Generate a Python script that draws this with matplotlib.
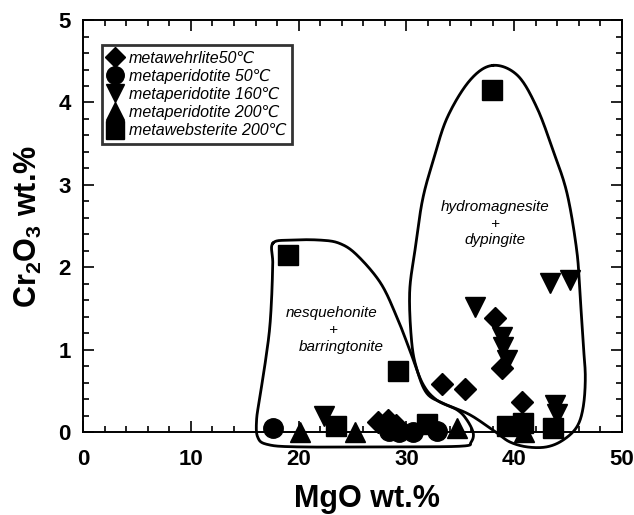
import numpy as np
import matplotlib
matplotlib.use("Agg")
import matplotlib.pyplot as plt
from matplotlib.ticker import MultipleLocator

plt.rcParams['font.family'] = ['Liberation Sans', 'DejaVu Sans']
plt.rcParams['mathtext.fontset'] = 'custom'
plt.rcParams['mathtext.rm'] = 'Liberation Sans:bold'
plt.rcParams['mathtext.bf'] = 'Liberation Sans:bold'
plt.rcParams['mathtext.default'] = 'bf'

# ---- data (MgO wt.%, Cr2O3 wt.%) ----
wehr50_x = [27.4, 28.3, 29.0, 33.3, 35.4, 38.2, 38.9, 40.7]
wehr50_y = [0.12, 0.15, 0.08, 0.58, 0.52, 1.38, 0.78, 0.36]

perid50_x = [17.6, 28.4, 29.3, 30.6, 32.8]
perid50_y = [0.05, 0.01, 0.00, 0.00, 0.01]

perid160_x = [22.4, 36.4, 38.9, 39.0, 39.3, 43.3, 45.2, 43.8, 44.0, 40.8]
perid160_y = [0.20, 1.52, 1.15, 1.03, 0.87, 1.81, 1.85, 0.33, 0.22, 0.02]

perid200_x = [20.1, 25.2, 34.7, 40.9]
perid200_y = [0.00, 0.00, 0.05, 0.00]

webst200_x = [19.0, 23.5, 29.2, 31.9, 37.9, 39.3, 40.8, 43.6]
webst200_y = [2.15, 0.07, 0.74, 0.10, 4.15, 0.07, 0.11, 0.05]

series_labels = ["metawehrlite50\u2103", "metaperidotite 50\u2103",
                 "metaperidotite 160\u2103", "metaperidotite 200\u2103",
                 "metawebsterite 200\u2103"]

# field outlines
nesq_x = [17.6, 19.2, 22.0, 23.8, 25.4, 27.6, 29.1, 30.3, 31.5, 32.8, 34.7, 35.6,
          36.2, 36.0, 35.2, 29.4, 20.1, 17.1, 16.2, 16.1, 16.4, 16.9, 17.3, 17.5, 17.6]
nesq_y = [2.29, 2.33, 2.33, 2.29, 2.15, 1.81, 1.40, 1.00, 0.59, 0.39, 0.27, 0.15,
          -0.01, -0.12, -0.17, -0.18, -0.18, -0.15, -0.06, 0.15, 0.42, 0.84, 1.24, 1.64, 2.05]

hyd_x = [38.0, 40.3, 42.1, 43.6, 44.9, 45.8, 46.1, 46.4, 46.6, 46.4, 45.8, 44.5, 43.0,
         41.2, 39.6, 38.4, 37.1, 35.6, 33.4, 31.9, 31.0, 30.5, 30.3, 30.8, 31.5, 32.5, 33.8, 35.9]
hyd_y = [4.45, 4.33, 3.94, 3.42, 2.90, 2.21, 1.69, 1.08, 0.67, 0.30, 0.06, -0.10, -0.18,
         -0.18, -0.12, -0.01, 0.11, 0.23, 0.35, 0.47, 0.75, 1.08, 1.69, 2.21, 2.82, 3.30, 3.82, 4.27]


def closed_smooth(xs, ys, n=24):
    P = np.column_stack([xs, ys]).astype(float)
    N = len(P)
    t = np.linspace(0, 1, n, endpoint=False)[:, None]
    segs = []
    for i in range(N):
        p0, p1, p2, p3 = P[(i - 1) % N], P[i], P[(i + 1) % N], P[(i + 2) % N]
        segs.append(0.5 * (2 * p1 + (-p0 + p2) * t + (2 * p0 - 5 * p1 + 4 * p2 - p3) * t ** 2
                           + (-p0 + 3 * p1 - 3 * p2 + p3) * t ** 3))
    out = np.vstack(segs + [segs[0][:1]])
    return out[:, 0], out[:, 1]


fig = plt.figure(figsize=(6.34, 5.15), dpi=100)
ax = fig.add_axes([0.131, 0.161, 0.850, 0.800])

for xs, ys in [(nesq_x, nesq_y), (hyd_x, hyd_y)]:
    sx, sy = closed_smooth(xs, ys)
    ax.plot(sx, sy, color='black', lw=2.0, clip_on=False, zorder=2)

mk = dict(color='black', linestyle='none', clip_on=False, zorder=3)
ax.plot(wehr50_x, wehr50_y, marker='D', ms=11.5, label=series_labels[0], **mk)
ax.plot(perid50_x, perid50_y, marker='o', ms=14, label=series_labels[1], **mk)
ax.plot(perid160_x, perid160_y, marker='v', ms=15, label=series_labels[2], **mk)
ax.plot(perid200_x, perid200_y, marker='^', ms=15, label=series_labels[3], **mk)
ax.plot(webst200_x, webst200_y, marker='s', ms=15, label=series_labels[4], **mk)

tk = dict(ha='center', va='center', style='italic', fontsize=11)
ax.text(23.1, 1.44, "nesquehonite", **tk)
ax.text(23.1, 1.24, "+", **tk)
ax.text(24.0, 1.03, "barringtonite", **tk)

ax.text(38.2, 2.73, "hydromagnesite", **tk)
ax.text(38.2, 2.53, "+", **tk)
ax.text(38.2, 2.33, "dypingite", **tk)

ax.set_xlim(0, 50)
ax.set_ylim(0, 5)
ax.xaxis.set_major_locator(MultipleLocator(10))
ax.xaxis.set_minor_locator(MultipleLocator(2))
ax.yaxis.set_major_locator(MultipleLocator(1))
ax.yaxis.set_minor_locator(MultipleLocator(0.2))
ax.tick_params(which='both', direction='in', top=True, right=True, width=1.2)
ax.tick_params(which='major', length=8, labelsize=16)
ax.tick_params(axis='x', which='major', pad=12)
ax.tick_params(axis='y', which='major', pad=9)
ax.tick_params(which='minor', length=4)
for lab in ax.get_xticklabels() + ax.get_yticklabels():
    lab.set_fontweight('bold')
for sp in ax.spines.values():
    sp.set_linewidth(1.4)

ax.set_xlabel("MgO wt.%", fontsize=22, fontweight='bold', labelpad=2)
ax.xaxis.set_label_coords(0.527, -0.125)
ax.set_ylabel("Cr$_{2}$O$_{3}$ wt.%", fontsize=22, fontweight='bold', labelpad=10)

leg = ax.legend(loc='upper left', bbox_to_anchor=(0.035, 0.94), borderaxespad=0,
                prop={'style': 'italic', 'size': 11.5},
                markerscale=0.9, handlelength=1.0, handletextpad=0.35,
                labelspacing=0.2, borderpad=0.35, fancybox=False, frameon=True)
leg.get_frame().set_edgecolor('black')
leg.get_frame().set_linewidth(2.0)
leg.set_zorder(5)

fig.savefig("out.png", dpi=100)
